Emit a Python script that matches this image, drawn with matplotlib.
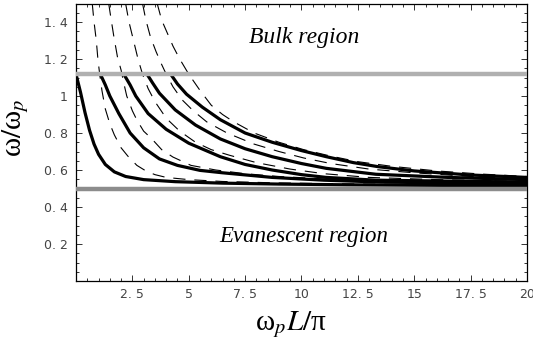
import matplotlib
matplotlib.use("Agg")
import matplotlib.pyplot as plt
from matplotlib.ticker import MultipleLocator, FixedLocator, FixedFormatter

plt.rcParams["mathtext.fontset"] = "stix"
plt.rcParams["font.family"] = ["Liberation Serif", "DejaVu Serif"]

# -----------------------------
# Data
# -----------------------------
bulk_edge = 1.118
evanescent_edge = 0.5

# solid curves (x, omega)
solid_1_x = [0.0, 0.2, 0.4, 0.6, 0.8, 1.0, 1.3, 1.7, 2.2, 3.0, 4.4, 6.5, 9.0, 12.0, 16.0, 20.0]
solid_1_y = [1.118, 1.02, 0.91, 0.815, 0.74, 0.685, 0.63, 0.59, 0.565, 0.548, 0.537, 0.529, 0.524, 0.52, 0.517, 0.514]

solid_2_x = [1.08, 1.3, 1.5, 1.9, 2.4, 3.0, 3.7, 4.5, 5.5, 6.5, 8.7, 11.0, 13.5, 16.5, 20.0]
solid_2_y = [1.118, 1.06, 1.0, 0.905, 0.80, 0.72, 0.66, 0.625, 0.598, 0.585, 0.56, 0.545, 0.535, 0.53, 0.525]

solid_3_x = [2.12, 2.4, 2.65, 3.2, 4.0, 5.0, 6.4, 7.5, 8.7, 10.0, 11.1, 13.3, 16.5, 20.0]
solid_3_y = [1.118, 1.06, 1.0, 0.905, 0.82, 0.745, 0.672, 0.63, 0.60, 0.575, 0.56, 0.545, 0.54, 0.535]

solid_4_x = [3.15, 3.4, 3.7, 4.4, 5.3, 6.4, 7.5, 8.7, 10.0, 11.1, 13.3, 16.5, 20.0]
solid_4_y = [1.118, 1.07, 1.015, 0.925, 0.843, 0.768, 0.715, 0.672, 0.635, 0.609, 0.577, 0.56, 0.548]

solid_5_x = [4.2, 4.5, 4.9, 5.6, 6.4, 7.5, 8.7, 10.0, 11.1, 12.3, 13.4, 15.0, 17.5, 20.0]
solid_5_y = [1.118, 1.065, 1.01, 0.94, 0.872, 0.80, 0.75, 0.705, 0.672, 0.64, 0.618, 0.595, 0.573, 0.56]

# dashed curves (x, omega)
dashed_1_x = [0.72, 0.8, 0.9, 0.97, 1.05, 1.15, 1.3, 1.5, 1.7, 2.0, 2.3, 2.7, 3.1, 3.5, 4.0, 5.0, 6.5, 9.0, 12.0, 16.0, 20.0]
dashed_1_y = [1.5, 1.4, 1.3, 1.2, 1.118, 1.03, 0.93, 0.85, 0.79, 0.72, 0.675, 0.625, 0.595, 0.575, 0.56, 0.548, 0.538, 0.53, 0.525, 0.52, 0.517]

dashed_2_x = [1.45, 1.55, 1.68, 1.84, 2.0, 2.1, 2.25, 2.5, 2.7, 3.0, 3.35, 3.8, 4.3, 5.1, 6.2, 7.5, 9.0, 11.0, 14.0, 17.0, 20.0]
dashed_2_y = [1.5, 1.42, 1.32, 1.21, 1.14, 1.08, 1.0, 0.92, 0.87, 0.81, 0.77, 0.71, 0.67, 0.625, 0.60, 0.58, 0.565, 0.552, 0.54, 0.533, 0.528]

dashed_3_x = [2.2, 2.35, 2.55, 2.75, 2.95, 3.2, 3.5, 4.0, 4.6, 5.3, 6.0, 6.8, 8.0, 9.5, 11.0, 13.0, 16.0, 20.0]
dashed_3_y = [1.5, 1.4, 1.3, 1.2, 1.118, 1.04, 0.97, 0.88, 0.81, 0.75, 0.71, 0.68, 0.64, 0.605, 0.58, 0.56, 0.548, 0.538]

dashed_4_x = [2.95, 3.1, 3.3, 3.55, 3.8, 4.0, 4.3, 4.7, 5.2, 5.8, 6.7, 7.9, 9.0, 10.1, 11.3, 13.0, 15.0, 17.5, 20.0]
dashed_4_y = [1.5, 1.41, 1.32, 1.24, 1.17, 1.118, 1.05, 0.98, 0.92, 0.86, 0.80, 0.74, 0.70, 0.665, 0.635, 0.605, 0.585, 0.565, 0.552]

dashed_5_x = [3.6, 3.8, 4.05, 4.3, 4.6, 5.0, 5.5, 6.0, 6.5, 7.0, 7.9, 9.0, 10.1, 11.3, 12.5, 14.0, 16.0, 18.0, 20.0]
dashed_5_y = [1.5, 1.41, 1.34, 1.27, 1.2, 1.118, 1.03, 0.95, 0.9, 0.86, 0.80, 0.75, 0.71, 0.675, 0.645, 0.62, 0.595, 0.578, 0.565]

x_ticks = [2.5, 5, 7.5, 10, 12.5, 15, 17.5, 20]
x_tick_labels = ["2. 5", "5", "7. 5", "10", "12. 5", "15", "17. 5", "20"]
y_ticks = [0.2, 0.4, 0.6, 0.8, 1.0, 1.2, 1.4]
y_tick_labels = ["0. 2", "0. 4", "0. 6", "0. 8", "1", "1. 2", "1. 4"]

# -----------------------------
# Figure
# -----------------------------
fig = plt.figure(figsize=(5.33, 3.44), dpi=100)
ax = fig.add_axes([0.1426, 0.1831, 0.8461, 0.8067])

solids = [(solid_1_x, solid_1_y), (solid_2_x, solid_2_y), (solid_3_x, solid_3_y),
          (solid_4_x, solid_4_y), (solid_5_x, solid_5_y)]
dashes = [(dashed_1_x, dashed_1_y), (dashed_2_x, dashed_2_y), (dashed_3_x, dashed_3_y),
          (dashed_4_x, dashed_4_y), (dashed_5_x, dashed_5_y)]

for xs, ys in dashes:
    line, = ax.plot(xs, ys, color="black", lw=0.8, solid_joinstyle="round")
    line.set_dashes([11, 8])

for xs, ys in solids:
    ax.plot(xs, ys, color="black", lw=2.3, solid_joinstyle="round", solid_capstyle="round")

ax.axhline(bulk_edge, color="#b0b0b0", lw=3.2, zorder=3)
ax.axhline(evanescent_edge, color="#8c8c8c", lw=3.2, zorder=3)

ax.text(10.1, 1.286, "Bulk region", style="italic", fontsize=17, ha="center", va="baseline")
ax.text(10.1, 0.211, "Evanescent region", style="italic", fontsize=16.5, ha="center", va="baseline")

ax.set_xlim(0, 20)
ax.set_ylim(0, 1.5)

ax.xaxis.set_major_locator(FixedLocator(x_ticks))
ax.xaxis.set_major_formatter(FixedFormatter(x_tick_labels))
ax.xaxis.set_minor_locator(MultipleLocator(0.5))
ax.yaxis.set_major_locator(FixedLocator(y_ticks))
ax.yaxis.set_major_formatter(FixedFormatter(y_tick_labels))
ax.yaxis.set_minor_locator(MultipleLocator(0.05))

ax.tick_params(which="both", direction="in", top=True, right=True, width=0.7, color="#333333")
ax.tick_params(which="major", length=4)
ax.tick_params(which="minor", length=2.2)
ax.tick_params(axis="x", pad=5)
ax.tick_params(axis="y", pad=6)
for lab in ax.get_xticklabels() + ax.get_yticklabels():
    lab.set_fontfamily("DejaVu Sans")
    lab.set_fontsize(9)
    lab.set_color("#444444")

for sp in ax.spines.values():
    sp.set_linewidth(0.9)

fig.text(0.545, 0.055, r"$\mathregular{\omega}_pL/\mathregular{\pi}$", fontsize=21,
         ha="center", va="center")
fig.text(0.03, 0.63, r"$\mathregular{\omega}/\mathregular{\omega}_p$", fontsize=21,
         ha="center", va="center", rotation=90)

fig.savefig("out.png", dpi=100)
